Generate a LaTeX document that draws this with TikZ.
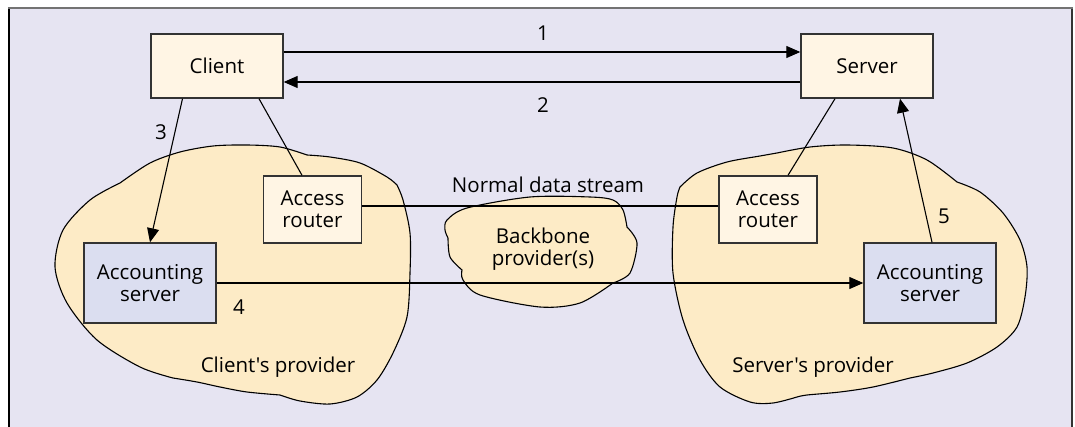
\documentclass[tikz,border=0pt]{standalone}
\usepackage{fontspec}
\setmainfont{Open Sans}[Ligatures=TeXOff]
\usetikzlibrary{arrows.meta}
\definecolor{bgcol}{HTML}{E6E4F2}
\definecolor{cloudcol}{HTML}{FDEBC6}
\definecolor{boxcol}{HTML}{FFF5E4}
\definecolor{acctcol}{HTML}{DBDEF0}
\definecolor{edgecol}{HTML}{333333}
\tikzset{
  txt/.style={font=\fontsize{20.5}{21.5}\selectfont, inner sep=0pt, align=center},
  boxnode/.style={txt, draw=edgecol, line width=1.4pt, fill=boxcol, minimum width=132pt, minimum height=64pt},
  routerbox/.style={txt, draw=edgecol, line width=1.4pt, fill=boxcol, minimum width=98pt, minimum height=67pt},
  acctbox/.style={txt, draw=edgecol, line width=1.4pt, fill=acctcol, minimum width=132pt, minimum height=80pt},
  cloudshape/.style={draw=black, line width=1.1pt, fill=cloudcol},
  conn/.style={draw=black, line width=1.1pt},
  arr/.style={conn, -{Triangle[length=14pt, width=12pt]}},
}
\begin{document}
\begin{tikzpicture}[x=1pt, y=-1pt]
\useasboundingbox (0,0) rectangle (1075,427);
% frame
\fill[bgcol] (9,8) rectangle (1072,430);
\draw[black, line width=1.3pt] (9,8) -- (9,430);
\draw[black!80, line width=1.3pt] (1072,8) -- (1072,430);
\draw[black!55, line width=2pt] (8.4,8) -- (1072.6,8);

% client's provider cloud
\path[cloudshape]
  plot[smooth] coordinates {(120,183) (150,163) (180,152) (213,146) (247,145) (280,147) (307,155)}
  -- plot[smooth] coordinates {(307,155) (330,157) (360,163) (387,177) (397,185)}
  -- plot[smooth] coordinates {(397,185) (403,200) (410,233) (410,273) (407,317) (393,353) (377,380) (357,397) (330,404) (300,401) (280,395)}
  -- plot[smooth] coordinates {(280,395) (247,392) (220,387) (197,382) (173,378)}
  -- plot[smooth] coordinates {(173,378) (140,367) (97,340) (67,303) (55,267) (63,230) (90,200) (120,183)}
  -- cycle;
% server's provider cloud
\path[cloudshape]
  plot[smooth] coordinates {(680,187) (697,173) (727,162) (760,156) (777,153)}
  -- plot[smooth] coordinates {(777,153) (810,147) (847,145) (893,148) (927,160) (957,182)}
  -- plot[smooth] coordinates {(957,182) (980,192) (1003,213) (1020,240) (1027,267) (1025,297) (1017,327) (997,347) (967,363) (933,373) (910,378)}
  -- plot[smooth] coordinates {(910,378) (873,387) (840,392) (807,395) (797,397)}
  -- plot[smooth] coordinates {(797,397) (773,403) (750,402) (720,387) (700,360) (683,320) (673,273) (673,227) (677,197) (680,187)}
  -- cycle;
% backbone cloud
\path[cloudshape]
  plot[smooth] coordinates {(448,238) (445,230) (447,220) (467,208) (530,197) (590,197) (613,200) (623,210) (627,227)}
  -- plot[smooth] coordinates {(627,227) (637,243) (630,273) (613,283)}
  -- plot[smooth] coordinates {(613,283) (580,303) (540,307) (480,295) (463,280) (462,270)}
  -- plot[smooth] coordinates {(462,270) (450,257) (448,238)}
  -- cycle;

% nodes
\node[boxnode] (client) at (217,66) {Client};
\node[boxnode] (server) at (867,66) {Server};
\node[routerbox] (arC) at (312.5,209.5) {Access\\router};
\node[routerbox] (arS) at (768,209.5) {Access\\router};
\node[acctbox] (acC) at (150,283) {Accounting\\server};
\node[acctbox] (acS) at (930,283) {Accounting\\server};

\node[txt] (lbackbone) at (543,249) {Backbone\\provider(s)};
\node[txt] (lnormal) at (548,185) {Normal data stream};
\node[txt] (lcp) at (278,367) {Client's provider};
\node[txt] (lsp) at (813,367) {Server's provider};
\node[txt] (l1) at (543,33) {1};
\node[txt] (l2) at (543,105) {2};
\node[txt] (l3) at (161,132) {3};
\node[txt] (l4) at (239,307) {4};
\node[txt] (l5) at (944,216) {5};

% connectors
\draw[arr] ([yshift=14pt]client.east) -- ([yshift=14pt]server.west);
\draw[arr] ([yshift=-16pt]server.west) -- ([yshift=-16pt]client.east);
\draw[arr] ([xshift=-34.5pt]client.south) -- (acC.north);
\draw[conn] ([xshift=42pt]client.south) -- ([xshift=-10.5pt]arC.north);
\draw[conn] ([xshift=-32pt]server.south) -- ([xshift=20pt]arS.north);
\draw[arr] ([xshift=2pt]acS.north) -- ([xshift=33pt]server.south);
\draw[conn] ([yshift=3.5pt]arC.east) -- ([yshift=3.5pt]arS.west);
\draw[arr] (acC.east) -- (acS.west);
\end{tikzpicture}
\end{document}
